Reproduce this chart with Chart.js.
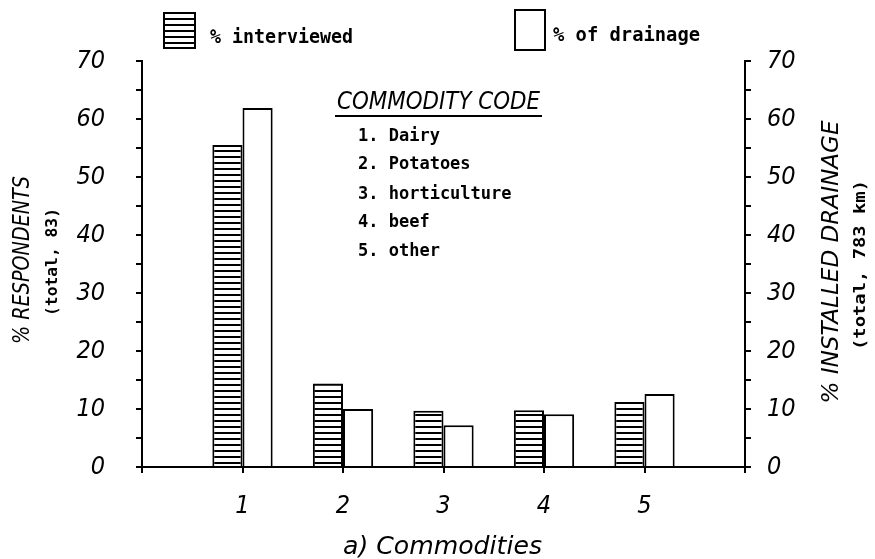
<!DOCTYPE html>
<html>
<head>
<meta charset="utf-8">
<script src="https://cdn.jsdelivr.net/npm/chart.js@4"></script>
<style>
  body{margin:0;background:#fff}
  #wrap{width:875px;height:559px}
</style>
</head>
<body>
<div id="wrap"><canvas id="c" width="875" height="559"></canvas></div>
<script>
// data
const cats = ['', '1', '2', '3', '4', '5', ''];
const interviewed = [null, 55.5, 14.4, 9.7, 9.8, 11.2, null];
const drainage = [null, 61.9, 10.0, 7.2, 9.1, 12.6, null];
const yMax = 70, yStep = 5, yLabelStep = 10;
const codes = ['1. Dairy', '2. Potatoes', '3. horticulture', '4. beef', '5. other'];

const NARROW = "'Liberation Sans Narrow','DejaVu Sans Condensed',sans-serif";
const MONO = "'DejaVu Sans Mono','Liberation Mono',monospace";

// horizontal hatch, crisp 2px lines
function hatch(){
  const p = document.createElement('canvas'); p.width = 8; p.height = 6;
  const g = p.getContext('2d');
  g.fillStyle = '#fff'; g.fillRect(0,0,8,6);
  g.fillStyle = '#000'; g.fillRect(0,0,8,2);
  return g.createPattern(p, 'repeat');
}
const HATCH = hatch();

// text squeezed/stretched to a given width
function fit(ctx, s, x, y, font, w, rot){
  ctx.save(); ctx.translate(x,y); if(rot) ctx.rotate(rot);
  ctx.font = font; const m = ctx.measureText(s).width;
  ctx.scale(w/m, 1);
  ctx.textAlign='center'; ctx.textBaseline='middle'; ctx.fillStyle='#000';
  ctx.fillText(s, 0, 0); ctx.restore();
}

const extras = {
  id:'extras',
  afterDraw(chart){
    const ctx = chart.ctx;
    ctx.save();
    // legend
    ctx.lineWidth = 2; ctx.strokeStyle = '#000';
    ctx.fillStyle = HATCH; ctx.fillRect(164,13,31,35); ctx.strokeRect(164,13,31,35);
    ctx.fillStyle = '#fff'; ctx.fillRect(515,10,30,40); ctx.strokeRect(515,10,30,40);
    fit(ctx, '% interviewed', 281.5, 38, 'bold 19px '+MONO, 143);
    fit(ctx, '% of drainage', 626.5, 36, 'bold 19px '+MONO, 147);
    // commodity code box
    fit(ctx, 'COMMODITY CODE', 438.5, 102, 'italic 25px '+NARROW, 203);
    ctx.beginPath(); ctx.moveTo(335,116); ctx.lineTo(542,116); ctx.stroke();
    ctx.font = 'bold 17px '+MONO; ctx.fillStyle='#000'; ctx.textAlign='left'; ctx.textBaseline='middle';
    const ys = [137,165,195,223,252];
    codes.forEach((s,i)=>ctx.fillText(s, 358, ys[i]));
    // axis titles
    fit(ctx, '% RESPONDENTS', 23, 260, 'italic 23px '+NARROW, 168, -Math.PI/2);
    fit(ctx, '(total, 83)', 53, 262, 'bold 16px '+MONO, 108, -Math.PI/2);
    fit(ctx, '% INSTALLED DRAINAGE', 832, 262, 'italic 23px '+NARROW, 283, -Math.PI/2);
    fit(ctx, '(total, 783 km)', 861, 265, 'bold 16px '+MONO, 170, -Math.PI/2);
    fit(ctx, 'a) Commodities', 442.5, 548, 'italic 24px '+NARROW, 199);
    ctx.restore();
  }
};

const tickFont = {family:NARROW, size:25, style:'italic'};
const yTick = v => v % yLabelStep === 0 ? String(v) : '';
const axisY = (pos, w, pad) => ({
  position: pos, min:0, max:yMax,
  ticks:{stepSize:yStep, autoSkip:false, callback:yTick, color:'#000', font:tickFont, padding:pad},
  grid:{drawOnChartArea:false, color:'#000', lineWidth:2, tickLength:6},
  border:{color:'#000', width:2},
  afterFit: s => { s.width = w; }
});

new Chart(document.getElementById('c'), {
  type:'bar',
  data:{
    labels: cats,
    datasets:[
      {label:'% interviewed', data:interviewed, backgroundColor:HATCH, borderColor:'#000', borderWidth:2, yAxisID:'y'},
      {label:'% of drainage', data:drainage, backgroundColor:'#fff', borderColor:'#000', borderWidth:2, yAxisID:'y'}
    ]
  },
  options:{
    responsive:false, animation:false,
    layout:{padding:{top:61, left:0, right:0, bottom:0}},
    categoryPercentage:0.6, barPercentage:1.0,
    plugins:{legend:{display:false}, tooltip:{enabled:false}},
    scales:{
      x:{
        offset:false,
        ticks:{color:'#000', font:tickFont, padding:18, maxRotation:0, autoSkip:false},
        grid:{offset:false, drawOnChartArea:false, color:'#000', lineWidth:2, tickLength:6},
        border:{color:'#000', width:2},
        afterFit: s => { s.height = 92; }
      },
      y: axisY('left', 142, 31),
      y2: axisY('right', 130, 16)
    }
  },
  plugins:[extras]
});
</script>
</body>
</html>
